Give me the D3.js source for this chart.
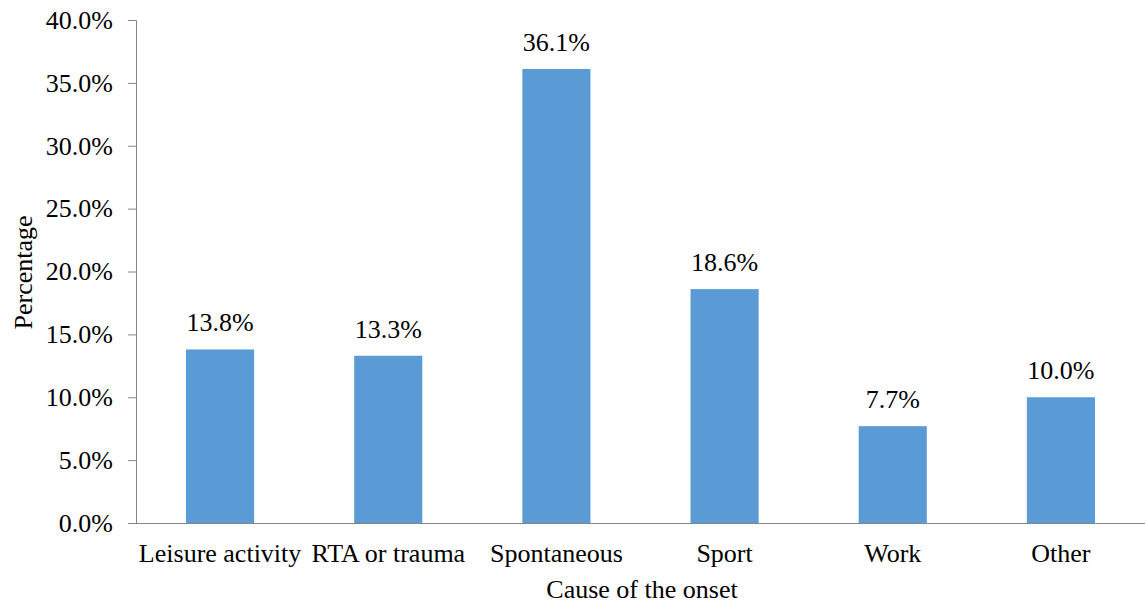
<!DOCTYPE html>
<html>
<head>
<meta charset="utf-8">
<script src="https://cdn.jsdelivr.net/npm/d3@7"></script>
<style>
  body { margin: 0; background: #fff; }
  text { font-family: "Liberation Serif", "Times New Roman", serif; fill: #000; }
</style>
</head>
<body>
<div id="canvas"></div>
<script>
const categories = ["Leisure activity", "RTA or trauma", "Spontaneous", "Sport", "Work", "Other"];
const values = [13.8, 13.3, 36.1, 18.6, 7.7, 10.0];
const yTicks = [0, 5, 10, 15, 20, 25, 30, 35, 40];

const w = 1145;
const h = 605;
const margin = { top: 20, bottom: 82, left: 136, right: 0 };
const width = w - margin.left - margin.right;
const height = h - margin.top - margin.bottom;
const fontSize = "26px";

const svg = d3.select("#canvas")
  .append("svg")
  .attr("width", w)
  .attr("height", h);

const chart = svg.append("g")
  .attr("transform", "translate(" + margin.left + "," + margin.top + ")");

const x = d3.scaleBand()
  .domain(categories)
  .range([0, width])
  .paddingInner(0.595)
  .paddingOuter(0.2975);

const y = d3.scaleLinear()
  .domain([0, 40])
  .range([height, 0]);

// bars
chart.selectAll(".bar")
  .data(values)
  .enter()
  .append("rect")
  .attr("class", "bar")
  .attr("x", (d, i) => x(categories[i]))
  .attr("y", d => y(d))
  .attr("width", x.bandwidth())
  .attr("height", d => height - y(d))
  .style("fill", "#5B9BD5");

// value labels
chart.selectAll(".val")
  .data(values)
  .enter()
  .append("text")
  .attr("x", (d, i) => x(categories[i]) + x.bandwidth() / 2)
  .attr("y", d => y(d) - 18)
  .attr("text-anchor", "middle")
  .style("font-size", fontSize)
  .text(d => d.toFixed(1) + "%");

// y axis
const yAxis = d3.axisLeft(y)
  .tickValues(yTicks)
  .tickFormat(d => d.toFixed(1) + "%")
  .tickSize(8)
  .tickPadding(15);

const gy = chart.append("g").call(yAxis);
gy.select(".domain").attr("stroke", "#868686").attr("d", "M-8,0.5H0.5V" + (height + 0.5));
gy.selectAll(".tick line").attr("stroke", "#868686");
gy.selectAll(".tick text").style("font-size", fontSize).style("font-family", "Liberation Serif");

// x axis
const xAxis = d3.axisBottom(x).tickSize(0).tickPadding(21);
const gx = chart.append("g")
  .attr("transform", "translate(0," + height + ")")
  .call(xAxis);
gx.select(".domain").attr("stroke", "#868686").attr("d", "M0,0.5H" + width);
gx.selectAll(".tick text").style("font-size", fontSize).style("font-family", "Liberation Serif");

// axis titles
svg.append("text")
  .attr("transform", "translate(32," + (margin.top + height / 2 + 1) + ") rotate(-90)")
  .attr("text-anchor", "middle")
  .style("font-size", fontSize)
  .text("Percentage");

svg.append("text")
  .attr("x", 642)
  .attr("y", 598)
  .attr("text-anchor", "middle")
  .style("font-size", fontSize)
  .text("Cause of the onset");
</script>
</body>
</html>
